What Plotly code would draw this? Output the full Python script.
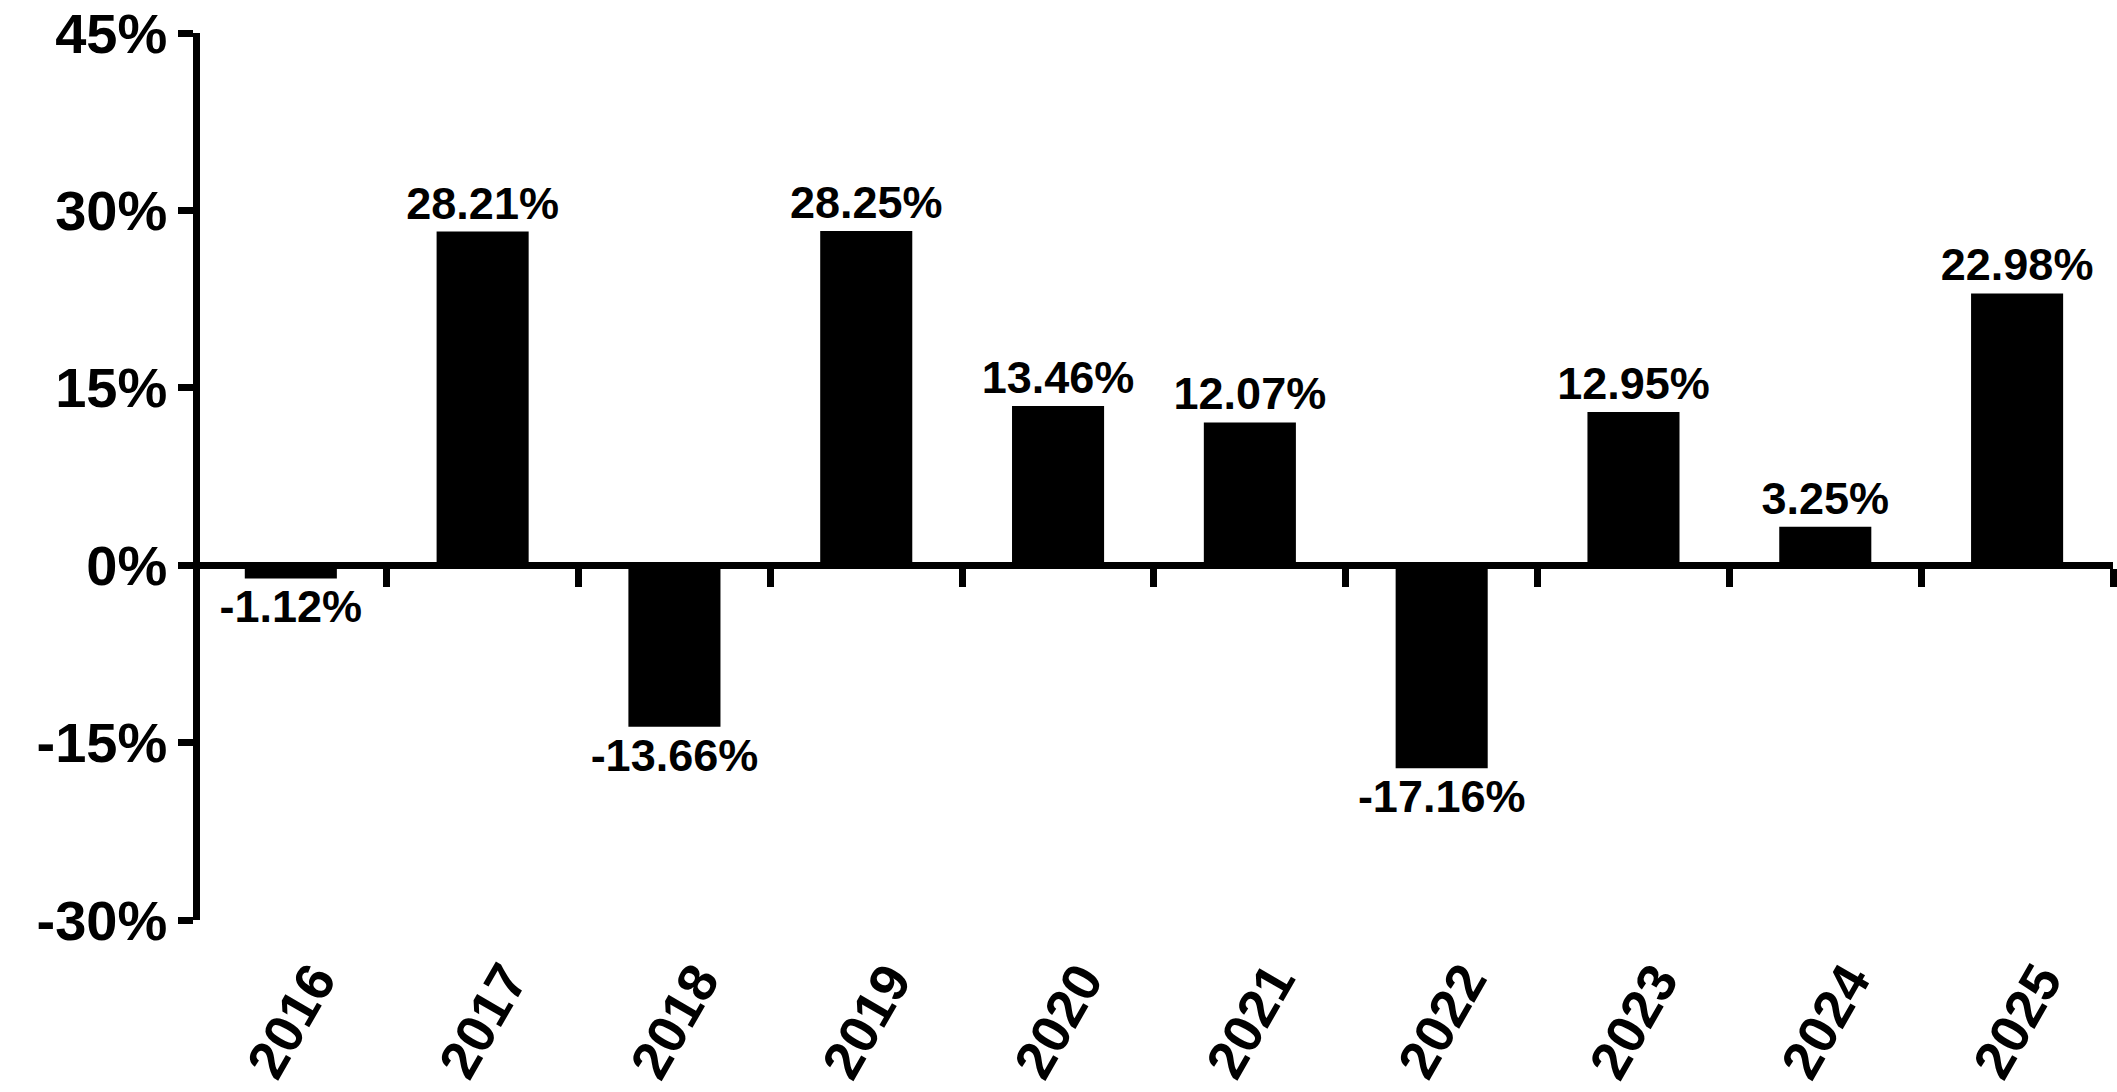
import plotly.graph_objects as go

years = ["2016", "2017", "2018", "2019", "2020", "2021", "2022", "2023", "2024", "2025"]
returns = [-1.12, 28.21, -13.66, 28.25, 13.46, 12.07, -17.16, 12.95, 3.25, 22.98]
y_ticks = [-30, -15, 0, 15, 30, 45]
y_tick_labels = ["-30%", "-15%", "0%", "15%", "30%", "45%"]

FONT = "Liberation Sans"
n = len(years)
x_range = [-0.51, n - 0.5]

fig = go.Figure()
fig.add_trace(go.Bar(
    x=years, y=returns,
    marker=dict(color="black", line=dict(width=0)),
    width=0.48,
    texttemplate="<b>%{y:.2f}%</b>",
    textposition="outside",
    textfont=dict(family=FONT, size=45, color="black"),
    constraintext="none",
    cliponaxis=False,
    hoverinfo="skip",
))
# invisible helper trace so the zero-line axis is drawn
fig.add_trace(go.Scatter(
    x=list(range(n)), y=[0] * n, xaxis="x2", mode="markers",
    marker=dict(opacity=0), hoverinfo="skip", showlegend=False,
))

annotations = [
    dict(x=i, xref="x2", y=0, yref="paper", text=f"<b>{yr}</b>",
         showarrow=False, textangle=-60, xanchor="center", yanchor="middle",
         yshift=-101, font=dict(family=FONT, size=54, color="black"))
    for i, yr in enumerate(years)
]

fig.update_layout(
    width=2117, height=1092,
    margin=dict(l=193, r=4, t=33, b=172),
    plot_bgcolor="white", paper_bgcolor="white",
    showlegend=False,
    annotations=annotations,
    xaxis=dict(
        type="category", range=x_range, automargin=False,
        showline=False, ticks="", showgrid=False, zeroline=False,
        showticklabels=False,
    ),
    xaxis2=dict(
        overlaying="x", anchor="free", position=30 / 75,
        range=x_range, automargin=False,
        tickvals=[i + 0.5 for i in range(n)],
        showticklabels=False,
        showline=True, linecolor="black", linewidth=7,
        ticks="outside", ticklen=18, tickwidth=7, tickcolor="black",
        showgrid=False, zeroline=False,
    ),
    yaxis=dict(
        range=[-30, 45], tickvals=y_ticks, ticktext=y_tick_labels,
        automargin=False, anchor="free", position=0.0018,
        showline=True, linecolor="black", linewidth=7,
        ticks="outside", ticklen=15, tickwidth=7, tickcolor="black",
        showgrid=False, zeroline=False,
        tickfont=dict(family=FONT, size=56, color="black", weight="bold"),
    ),
)

fig.write_html(
    "out.html",
    config={"displayModeBar": False},
    post_script="document.body.style.margin='0';document.body.style.overflow='hidden';",
)
